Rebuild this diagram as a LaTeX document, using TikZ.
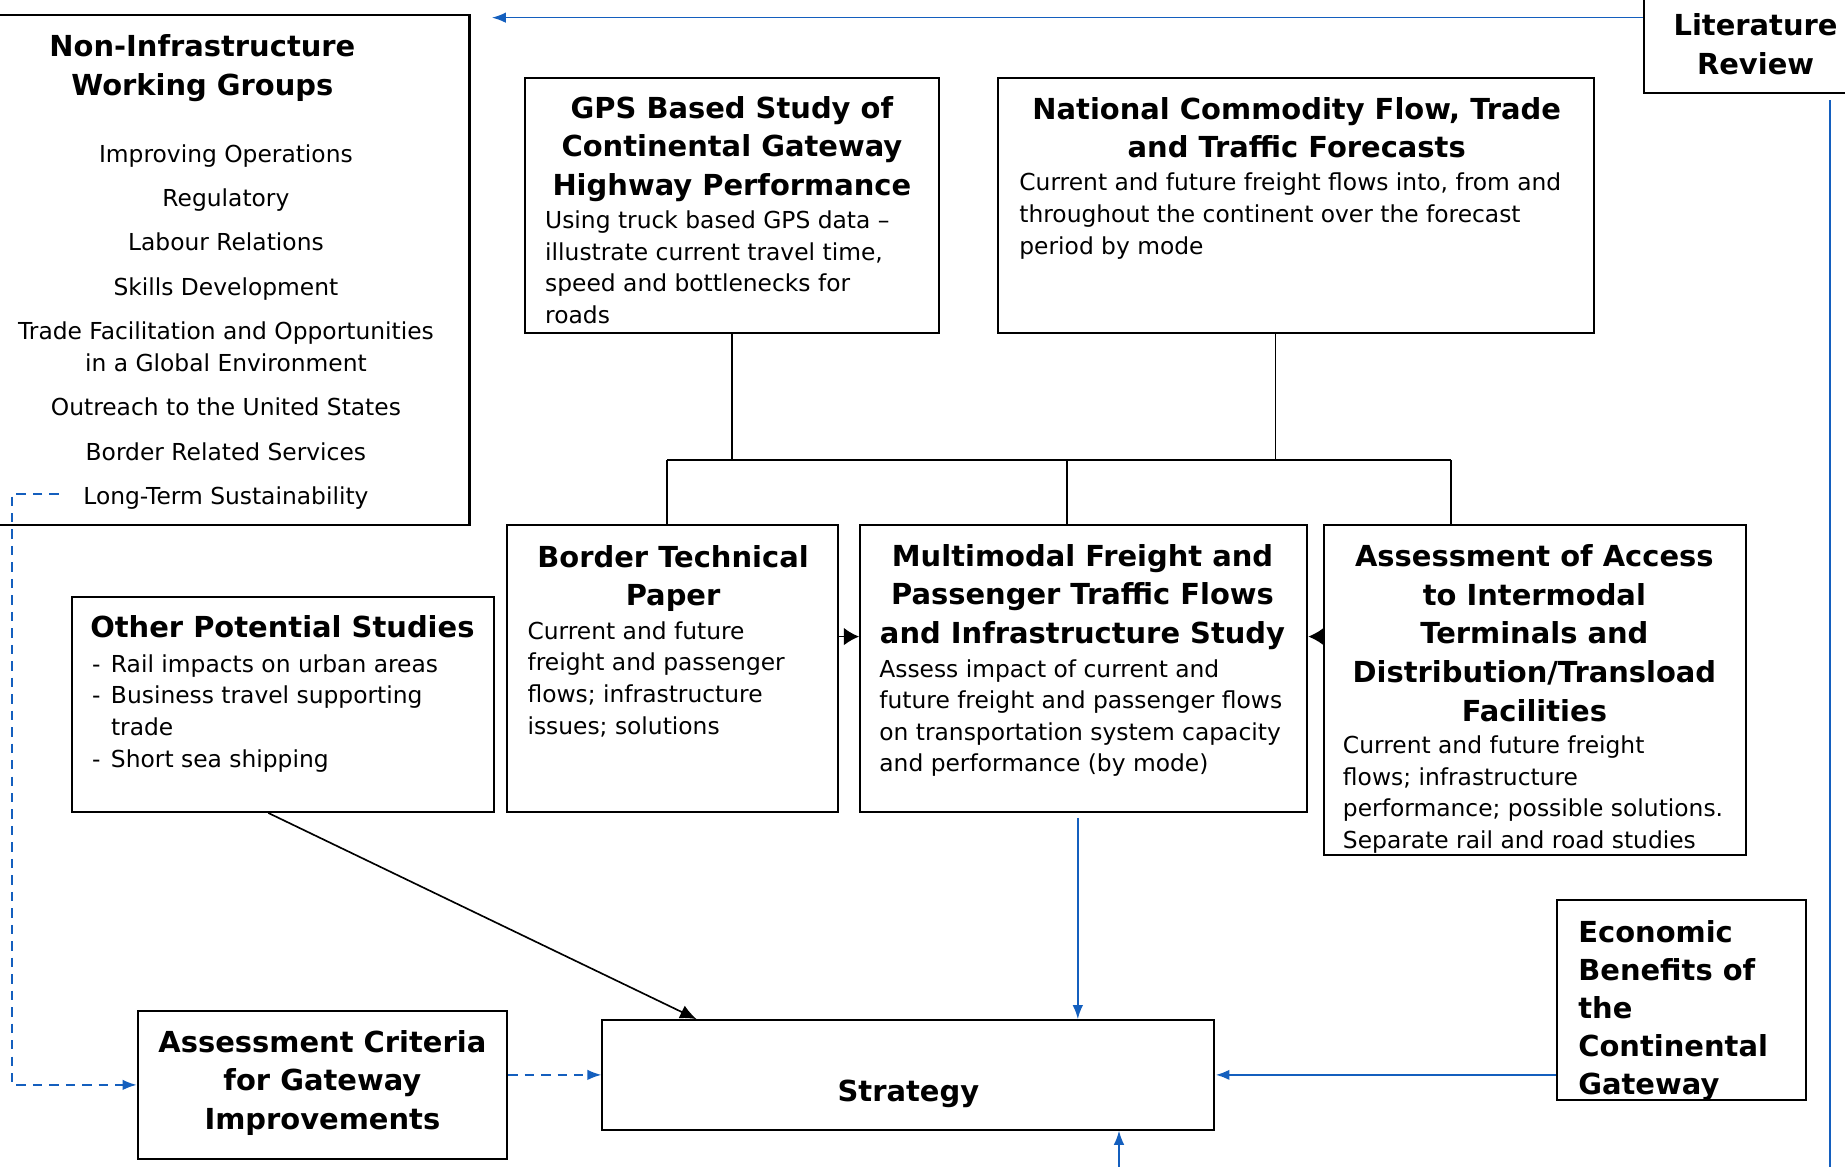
\documentclass[tikz,border=0pt]{standalone}
\usepackage{fontspec}
\setmainfont{DejaVu Sans}
\usetikzlibrary{arrows.meta,fit}
\definecolor{linkblue}{RGB}{20,95,190}

\tikzset{
  box/.style={draw, line width=1pt, inner sep=0pt},
  ttl/.style={font=\fontsize{14}{18.7}\selectfont\bfseries, align=center, inner sep=0pt, anchor=base},
  txt/.style={font=\fontsize{11.3}{15.3}\selectfont, align=left, inner sep=0pt, anchor=base west},
  ctxt/.style={font=\fontsize{11.3}{15.3}\selectfont, align=center, inner sep=0pt, anchor=base},
  tree/.style={line width=0.8pt},
  bluearrow/.style={draw=linkblue, line width=0.8pt, -{Latex[length=2.4mm,width=1.8mm]}},
  bluedash/.style={bluearrow, dash pattern=on 1.6mm off 1.2mm},
}

\begin{document}
\begin{tikzpicture}[x=0.02cm, y=-0.02cm]
    \useasboundingbox (0,0) rectangle (1568,991);
    % boxes
    \node[box, fit={(-5,13) (399,446)}] (groups) {};
    \node[box, fit={(1397,-5) (1575,79)}] (lit) {};
    \node[box, fit={(446,66) (798,283)}] (gps) {};
    \node[box, fit={(848,66) (1355,283)}] (national) {};
    \node[box, fit={(431,446) (712,690)}] (border) {};
    \node[box, fit={(731,446) (1111,690)}] (multi) {};
    \node[box, fit={(1125,446) (1484,727)}] (access) {};
    \node[box, fit={(61,507) (420,690)}] (other) {};
    \node[box, fit={(117,859) (431,985)}] (criteria) {};
    \node[box, fit={(512,867) (1032,960)}] (strategy) {};
    \node[box, fit={(1323,765) (1535,935)}] (econ) {};

    % texts (placed at the baseline of their last line)
    \node[ttl] (groupsT) at (172,81) {Non-Infrastructure\\Working Groups};
    \node[ctxt] (groupsL) at (192,429) {Improving Operations\\[6.2pt] Regulatory\\[6.2pt] Labour Relations\\[6.2pt] Skills Development\\[6.2pt] Trade Facilitation and Opportunities\\ in a Global Environment\\[6.2pt] Outreach to the United States\\[6.2pt] Border Related Services\\[6.2pt] Long-Term Sustainability};
    \node[ttl] (litT) at (1492,63) {Literature\\Review};
    \node[ttl] (gpsT) at (622,166) {GPS Based Study of\\Continental Gateway\\Highway Performance};
    \node[txt] (gpsB) at (463,275) {Using truck based GPS data –\\illustrate current travel time,\\speed and bottlenecks for\\roads};
    \node[ttl] (nationalT) at (1102,134) {National Commodity Flow, Trade\\and Traffic Forecasts};
    \node[txt] (nationalB) at (866,216) {Current and future freight flows into, from and\\throughout the continent over the forecast\\period by mode};
    \node[ttl] (borderT) at (572,515) {Border Technical\\Paper};
    \node[txt] (borderB) at (448,624) {Current and future\\freight and passenger\\flows; infrastructure\\issues; solutions};
    \node[ttl] (multiT) at (920,547) {Multimodal Freight and\\Passenger Traffic Flows\\and Infrastructure Study};
    \node[txt] (multiB) at (747,656) {Assess impact of current and\\future freight and passenger flows\\on transportation system capacity\\and performance (by mode)};
    \node[ttl] (accessT) at (1304,613) {Assessment of Access\\to Intermodal\\Terminals and\\Distribution/Transload\\Facilities};
    \node[txt] (accessB) at (1141,721) {Current and future freight\\flows; infrastructure\\performance; possible solutions.\\Separate rail and road studies};
    \node[ttl] (otherT) at (240,542) {Other Potential Studies};
    \node[txt] (otherB) at (78,652) {\makebox[0.32cm][l]{-}Rail impacts on urban areas\\\makebox[0.32cm][l]{-}Business travel supporting\\\hspace*{0.32cm}trade\\\makebox[0.32cm][l]{-}Short sea shipping};
    \node[ttl] (criteriaT) at (274,960) {Assessment Criteria\\for Gateway\\Improvements};
    \node[ttl] (strategyT) at (772,936) {Strategy};
    \node[ttl, align=left, anchor=base west, font=\fontsize{14}{18.4}\selectfont\bfseries] (econT) at (1341,930) {Economic\\Benefits of\\the\\Continental\\Gateway};

    % tree from the two top studies
    \coordinate (natDrop) at (1084,391);
    \coordinate (busL) at (567,391);
    \coordinate (busM) at (907,391);
    \coordinate (busR) at (1233,391);
    \draw[tree] (gps.south) -- (gps.south |- busL);
    \draw[tree] (national.south -| natDrop) -- (natDrop);
    \draw[tree] (busL) -- (busR);
    \draw[tree] (busL) -- (border.north -| busL);
    \draw[tree] (busM) -- (multi.north -| busM);
    \draw[tree] (busR) -- (access.north -| busR);

    \coordinate (sideY) at (0,541);
    \draw[tree, -{Latex[length=2.6mm,width=3mm]}] (border.east |- sideY) -- (multi.west |- sideY);
    \draw[tree, -{Latex[length=2.6mm,width=3mm]}] (access.west |- sideY) -- (multi.east |- sideY);

    \coordinate (otherOut) at (228,690);
    \coordinate (strategyIn) at (592,867);
    \draw[tree, -{Latex[length=2.8mm,width=2.4mm]}] (other.south -| otherOut) -- (strategy.north -| strategyIn);

    % blue links
    \coordinate (litEnd) at (418,15);
    \draw[bluearrow] (lit.west |- litEnd) -- (litEnd);
    \coordinate (litDown) at (1555,85);
    \coordinate (rightEnd) at (1555,1000);
    \draw[bluearrow, -] (litDown) -- (rightEnd);
    \coordinate (multiOut) at (916,695);
    \draw[bluearrow] (multiOut) -- (strategy.north -| multiOut);
    \coordinate (bottomIn) at (951,1000);
    \draw[bluearrow] (bottomIn) -- (strategy.south -| bottomIn);
    \draw[bluearrow, line width=1.3pt] (econ.west |- strategy.east) -- (strategy.east);
    \coordinate (dashStart) at (50,420);
    \draw[bluedash] (dashStart) -- ++(-40,0) |- (criteria.west);
    \draw[bluedash] (criteria.east |- strategy.west) -- (strategy.west);
\end{tikzpicture}
\end{document}
